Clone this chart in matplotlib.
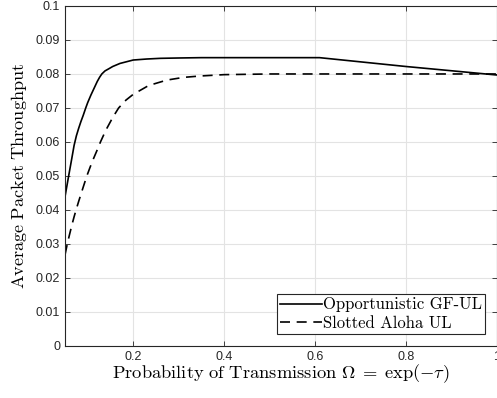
import matplotlib
matplotlib.use("Agg")
import matplotlib.pyplot as plt

plt.rcParams['mathtext.fontset'] = 'cm'
plt.rcParams['font.family'] = ['Liberation Sans', 'DejaVu Sans']

# throughput vs transmission probability, opportunistic grant-free UL
omega_gf = [0.05, 0.058, 0.065, 0.07, 0.075, 0.08, 0.085, 0.09, 0.0956, 0.10,
            0.107, 0.114, 0.121, 0.126, 0.131, 0.138, 0.146, 0.155, 0.171, 0.2,
            0.23, 0.26, 0.30, 0.35, 0.45, 0.61, 0.8, 1.0]
thr_gf = [0.0439, 0.0500, 0.0552, 0.0590, 0.0618, 0.0640, 0.0660, 0.0678, 0.0700, 0.0716,
          0.0738, 0.0758, 0.0778, 0.0790, 0.0800, 0.0809, 0.0815, 0.0822, 0.0831, 0.0841,
          0.0844, 0.0846, 0.0847, 0.0848, 0.0848, 0.0848, 0.0822, 0.0797]

# slotted aloha reference curve
omega_sa = [0.05, 0.055, 0.06, 0.065, 0.07, 0.0743, 0.08, 0.09, 0.098, 0.105,
            0.113, 0.121, 0.128, 0.14, 0.155, 0.168, 0.184, 0.2, 0.234, 0.274,
            0.311, 0.347, 0.4, 0.5, 0.7, 1.0]
thr_sa = [0.0268, 0.0300, 0.0328, 0.0355, 0.0380, 0.0400, 0.0425, 0.0467, 0.0500, 0.0525,
          0.0552, 0.0577, 0.0600, 0.0635, 0.0672, 0.0700, 0.0723, 0.0740, 0.0766, 0.0782,
          0.0790, 0.0794, 0.0798, 0.0800, 0.0800, 0.0800]

xticks = [0.2, 0.4, 0.6, 0.8, 1.0]
xticklabels = ['0.2', '0.4', '0.6', '0.8', '1']
yticks = [i / 100 for i in range(11)]
yticklabels = ['0'] + ['%.2f' % v for v in yticks[1:-1]] + ['0.1']

fig = plt.figure(figsize=(4.97, 3.98), dpi=100)
ax = fig.add_axes([0.1308, 0.1307, 0.8686, 0.8543])

ax.plot(omega_gf, thr_gf, color='black', lw=1.2, label='Opportunistic GF-UL')
ax.plot(omega_sa, thr_sa, color='black', lw=1.2, dashes=(6, 4), label='Slotted Aloha UL')

ax.set_xlim(0.05, 1)
ax.set_ylim(0, 0.1)
ax.set_xticks(xticks)
ax.set_xticklabels(xticklabels)
ax.set_yticks(yticks)
ax.set_yticklabels(yticklabels)

ax.grid(True, color='#e3e3e3', lw=0.8)
ax.set_axisbelow(True)
ax.tick_params(direction='in', top=True, right=True, length=3.5, width=0.6,
               colors='#262626', labelsize=9, labelcolor='#262626')
for s in ax.spines.values():
    s.set_color('#262626')
    s.set_linewidth(0.8)

ax.set_xlabel(r'$\mathrm{Probability\ of\ Transmission}\ \Omega\;=\;\exp(-\tau)$',
              fontsize=13.3, labelpad=0)
ax.set_ylabel(r'$\mathrm{Average\ Packet\ Throughput}$', fontsize=13.1, labelpad=5)

leg = ax.legend(loc='lower right', prop={'family': 'cmr10', 'size': 12},
                fancybox=False, edgecolor='#262626', framealpha=1,
                handlelength=2.5, handletextpad=0.05, borderpad=0.2,
                labelspacing=0.2, borderaxespad=0.7)
leg.get_frame().set_linewidth(0.8)

fig.savefig('out.png', dpi=100)
